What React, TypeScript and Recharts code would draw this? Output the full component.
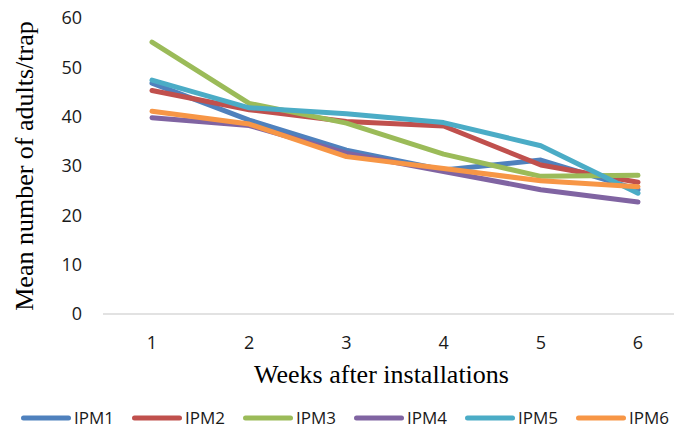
import React from 'react';
import { LineChart, Line, XAxis, YAxis, Legend } from 'recharts';

const weeks = ['1', '2', '3', '4', '5', '6'];
const ipm1 = [46.8, 39.3, 33.2, 29.2, 31.2, 25.2];
const ipm2 = [45.3, 41.4, 39.0, 38.1, 30.2, 26.7];
const ipm3 = [55.1, 42.7, 38.7, 32.4, 27.9, 28.1];
const ipm4 = [39.8, 38.2, 32.6, 28.9, 25.2, 22.7];
const ipm5 = [47.4, 41.8, 40.6, 38.8, 34.1, 24.5];
const ipm6 = [41.1, 38.5, 31.9, 29.5, 27.0, 25.8];
const yTicks = [0, 10, 20, 30, 40, 50, 60];

const seriesNames = ['IPM1', 'IPM2', 'IPM3', 'IPM4', 'IPM5', 'IPM6'];
const seriesValues = [ipm1, ipm2, ipm3, ipm4, ipm5, ipm6];
const colors = ['#4F81BD', '#C0504D', '#9BBB59', '#8064A2', '#4BACC6', '#F79646'];

const data = weeks.map((w, i) => {
  const row: Record<string, string | number> = { week: w };
  seriesNames.forEach((n, j) => {
    row[n] = seriesValues[j][i];
  });
  return row;
});

const renderLegend = (props: any) => {
  const payload = props.payload || [];
  return (
    <div
      style={{
        display: 'flex',
        justifyContent: 'center',
        alignItems: 'center',
        height: 24,
        fontFamily: '"Open Sans", sans-serif',
        fontSize: 17,
        color: '#1a1a1a',
      }}
    >
      {payload.map((entry: any, i: number) => (
        <div
          key={i}
          style={{ display: 'flex', alignItems: 'center', marginRight: i < payload.length - 1 ? 18 : 0 }}
        >
          <svg width={50} height={8}>
            <line x1={2.5} y1={4} x2={47.5} y2={4} stroke={entry.color} strokeWidth={5} strokeLinecap="round" />
          </svg>
          <span style={{ marginLeft: 3, lineHeight: '24px' }}>{entry.value}</span>
        </div>
      ))}
    </div>
  );
};

const yLabel = (props: any) => {
  const vb = props.viewBox || { x: 0, y: 0, width: 0, height: 0 };
  const cx = vb.x + 16;
  const cy = vb.y + vb.height / 2;
  return (
    <text
      x={cx}
      y={cy}
      transform={`rotate(-90, ${cx}, ${cy})`}
      textAnchor="middle"
      dominantBaseline="central"
      fontFamily='"Liberation Serif", "Times New Roman", serif'
      fontSize={26}
      fill="#000"
    >
      Mean number of adults/trap
    </text>
  );
};

const xLabel = (props: any) => {
  const vb = props.viewBox || { x: 0, y: 0, width: 0, height: 0 };
  return (
    <text
      x={vb.x + vb.width / 2 - 11}
      y={vb.y + 69}
      textAnchor="middle"
      fontFamily='"Liberation Serif", "Times New Roman", serif'
      fontSize={26}
      fill="#000"
    >
      Weeks after installations
    </text>
  );
};

export default function App() {
  return (
    <div style={{ marginTop: -8, width: 674, height: 430 }}>
      <LineChart
        width={674}
        height={430}
        data={data}
        margin={{ top: 18, right: 0, bottom: 0, left: 0 }}
      >
        <XAxis
          dataKey="week"
          height={92}
          padding={{ left: 49, right: 44 }}
          axisLine={{ stroke: '#D9D9D9', strokeWidth: 1.5 }}
          tickLine={false}
          tickSize={0}
          tickMargin={22}
          tick={{ fontFamily: '"Open Sans", sans-serif', fontSize: 18, fill: '#1a1a1a' }}
          label={xLabel}
        />
        <YAxis
          width={95}
          domain={[0, 60]}
          ticks={yTicks}
          axisLine={false}
          tickLine={false}
          tickSize={0}
          tickMargin={21}
          tick={{ fontFamily: '"Open Sans", sans-serif', fontSize: 18, fill: '#1a1a1a' }}
          label={yLabel}
        />
        <Legend verticalAlign="bottom" align="center" content={renderLegend} />
        {seriesNames.map((n, j) => (
          <Line
            key={n}
            type="linear"
            dataKey={n}
            stroke={colors[j]}
            strokeWidth={5}
            strokeLinecap="round"
            strokeLinejoin="round"
            dot={false}
            activeDot={false}
            isAnimationActive={false}
          />
        ))}
      </LineChart>
    </div>
  );
}
